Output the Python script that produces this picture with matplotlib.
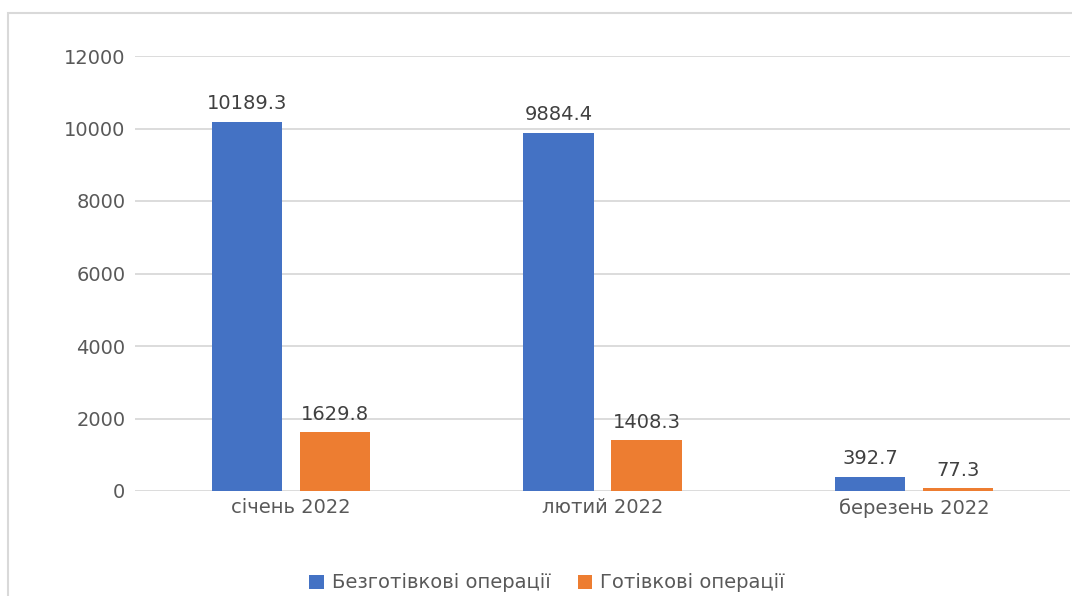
import matplotlib.pyplot as plt
import numpy as np
from matplotlib.patches import Rectangle

months = ["січень 2022", "лютий 2022", "березень 2022"]
cashless = [10189.3, 9884.4, 392.7]
cash = [1629.8, 1408.3, 77.3]
series_names = ["Безготівкові операції", "Готівкові операції"]

blue = "#4472c4"
orange = "#ed7d31"
text_col = "#595959"
fs = 14

plt.rcParams["font.family"] = ["DejaVu Sans"]

fig = plt.figure(figsize=(10.72, 5.96), dpi=100)
fig.patches.append(Rectangle((8 / 1072, -0.1), 1.2, 1 - 13 / 596 + 0.1,
                             transform=fig.transFigure, fill=False,
                             edgecolor="#d9d9d9", linewidth=1.5))

ax = fig.add_axes([135 / 1072, 1 - 491 / 596, 935 / 1072, 435 / 596])
x = np.arange(len(months))
w = 0.225
off = 0.141
b1 = ax.bar(x - off, cashless, w, color=blue, label=series_names[0], zorder=3)
b2 = ax.bar(x + off, cash, w, color=orange, label=series_names[1], zorder=3)

for bars in (b1, b2):
    for r in bars:
        ax.annotate(f"{r.get_height():.1f}", (r.get_x() + r.get_width() / 2, r.get_height()),
                    xytext=(0, 6), textcoords="offset points", ha="center", va="bottom",
                    fontsize=fs, color="#404040")

ax.set_xlim(-0.5, 2.5)
ax.set_ylim(0, 12000)
ax.set_yticks(range(0, 12001, 2000))
ax.set_xticks(x)
ax.set_xticklabels(months)
ax.grid(axis="y", color="#d9d9d9", linewidth=1.3, zorder=0)
for s in ax.spines.values():
    s.set_visible(False)
ax.tick_params(length=0, labelsize=fs, labelcolor=text_col)
ax.tick_params(axis="y", pad=7)
ax.tick_params(axis="x", pad=5)

fig.legend(loc="center", bbox_to_anchor=(547 / 1072, 1 - 583 / 596), ncol=2, frameon=False,
           fontsize=fs, labelcolor=text_col, handlelength=0.75, handleheight=0.75,
           handletextpad=0.4, columnspacing=1.4)

fig.savefig("out.png", dpi=100)
